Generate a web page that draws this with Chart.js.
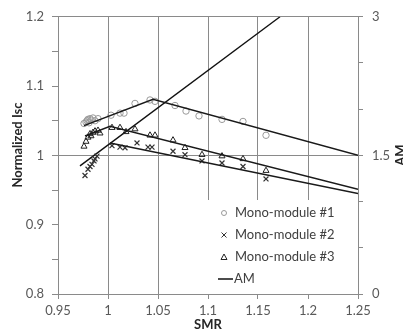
<!DOCTYPE html>
<html>
<head>
<meta charset="utf-8">
<script src="https://cdn.jsdelivr.net/npm/chart.js@4.4.0/dist/chart.umd.min.js"></script>
<style>
  html, body { margin: 0; padding: 0; background: #fff; }
  #wrap { width: 403px; height: 336px; }
</style>
</head>
<body>
<div id="wrap"><canvas id="smr"></canvas></div>
<script>
var mono1X = [0.976, 0.978, 0.979, 0.980, 0.981, 0.982, 0.983, 0.985, 0.987, 0.990, 1.003, 1.012, 1.016, 1.027, 1.042, 1.047, 1.067, 1.078, 1.091, 1.114, 1.135, 1.158];
var mono1Y = [1.046, 1.048, 1.050, 1.052, 1.047, 1.053, 1.051, 1.054, 1.050, 1.053, 1.058, 1.061, 1.061, 1.075, 1.080, 1.078, 1.072, 1.064, 1.057, 1.052, 1.049, 1.029];

var mono2X = [0.977, 0.980, 0.982, 0.984, 0.986, 0.987, 0.989, 1.004, 1.012, 1.017, 1.029, 1.040, 1.044, 1.065, 1.077, 1.094, 1.114, 1.135, 1.158];
var mono2Y = [0.971, 0.980, 0.984, 0.987, 0.992, 0.995, 0.999, 1.014, 1.012, 1.011, 1.018, 1.012, 1.012, 1.006, 1.001, 0.992, 0.989, 0.984, 0.966];

var mono3X = [0.976, 0.978, 0.980, 0.982, 0.983, 0.985, 0.987, 0.990, 0.992, 1.004, 1.012, 1.018, 1.027, 1.042, 1.047, 1.065, 1.077, 1.094, 1.114, 1.135, 1.158];
var mono3Y = [1.013, 1.020, 1.026, 1.031, 1.028, 1.033, 1.035, 1.036, 1.032, 1.040, 1.040, 1.034, 1.038, 1.029, 1.029, 1.022, 1.011, 1.001, 0.999, 0.995, 0.978];

// trend lines (two segments per module)
var trend1X = [0.976, 1.045, 1.25];
var trend1Y = [1.043, 1.081, 1.000];
var trend2X = [1.002, 1.25];
var trend2Y = [1.018, 0.945];
var trend3X = [0.977, 1.002, 1.25];
var trend3Y = [1.028, 1.042, 0.951];

// air mass, right axis
var amX = [0.972, 1.172];
var amY = [1.387, 3.0];

var xTickLabels = ['0.95', '1', '1.05', '1.1', '1.15', '1.2', '1.25'];
var yTickLabels = ['0.8', '0.9', '1', '1.1', '1.2'];
var y2TickLabels = ['0', '1.5', '3'];

var seriesNames = ['Mono-module #1', 'Mono-module #2', 'Mono-module #3', 'AM'];

var gridGray = '#8a8a8a';

function pts(xs, ys) {
    var out = [];
    for (var i = 0; i < xs.length; i++) out.push({ x: xs[i], y: ys[i] });
    return out;
}

function fmt(v) {
    return String(parseFloat(v.toFixed(2)));
}

Chart.defaults.font.family = 'Lato';
Chart.defaults.font.size = 13;
Chart.defaults.color = '#595959';

var trendStyle = {
    showLine: true,
    pointRadius: 0,
    borderColor: '#1a1a1a',
    borderWidth: 1.5,
    fill: false
};

// legend sitting inside the plot, bottom right
var boxLegend = {
    id: 'boxLegend',
    afterDraw: function (chart) {
        var ctx = chart.ctx;
        var area = chart.chartArea;
        ctx.save();
        ctx.fillStyle = '#fff';
        ctx.fillRect(203, 200, area.right - 203 - 1, area.bottom - 200);

        var mx = 224, tx = 235;
        var rows = [213, 235, 257, 279];
        ctx.lineWidth = 1;

        ctx.strokeStyle = '#9a9a9a';
        ctx.beginPath();
        ctx.arc(mx, rows[0], 2.5, 0, Math.PI * 2);
        ctx.stroke();

        ctx.strokeStyle = '#333';
        ctx.beginPath();
        ctx.moveTo(mx - 2.5, rows[1] - 2.5); ctx.lineTo(mx + 2.5, rows[1] + 2.5);
        ctx.moveTo(mx + 2.5, rows[1] - 2.5); ctx.lineTo(mx - 2.5, rows[1] + 2.5);
        ctx.stroke();

        ctx.strokeStyle = '#222';
        ctx.beginPath();
        ctx.moveTo(mx, rows[2] - 3); ctx.lineTo(mx + 3, rows[2] + 2.5); ctx.lineTo(mx - 3, rows[2] + 2.5);
        ctx.closePath();
        ctx.stroke();

        ctx.strokeStyle = '#111';
        ctx.lineWidth = 1.5;
        ctx.beginPath();
        ctx.moveTo(218, rows[3]); ctx.lineTo(233, rows[3]);
        ctx.stroke();

        ctx.fillStyle = '#404040';
        ctx.font = '13px Lato';
        ctx.textBaseline = 'middle';
        ctx.textAlign = 'left';
        for (var i = 0; i < 3; i++) ctx.fillText(seriesNames[i], tx, rows[i]);
        ctx.fillText(seriesNames[3], 234, rows[3]);

        // vertical axis titles
        ctx.fillStyle = '#262626';
        ctx.font = 'bold 13px Lato';
        ctx.textAlign = 'center';
        ctx.save();
        ctx.translate(18, 145);
        ctx.rotate(-Math.PI / 2);
        ctx.fillText('Normalized Isc', 0, 0);
        ctx.restore();
        ctx.save();
        ctx.translate(401, 155);
        ctx.rotate(-Math.PI / 2);
        ctx.fillText('AM', 0, 0);
        ctx.restore();
        ctx.restore();
    }
};

var ctx = document.getElementById('smr').getContext('2d');
var smrChart = new Chart(ctx, {
    type: 'scatter',
    data: {
        datasets: [
            Object.assign({ label: 'trend1', data: pts(trend1X, trend1Y), yAxisID: 'y' }, trendStyle),
            Object.assign({ label: 'trend2', data: pts(trend2X, trend2Y), yAxisID: 'y' }, trendStyle),
            Object.assign({ label: 'trend3', data: pts(trend3X, trend3Y), yAxisID: 'y' }, trendStyle),
            {
                label: seriesNames[0],
                data: pts(mono1X, mono1Y),
                yAxisID: 'y',
                pointStyle: 'circle',
                pointRadius: 3.2,
                borderColor: '#9a9a9a',
                backgroundColor: 'rgba(0,0,0,0)',
                borderWidth: 1
            },
            {
                label: seriesNames[1],
                data: pts(mono2X, mono2Y),
                yAxisID: 'y',
                pointStyle: 'cross',
                rotation: 45,
                pointRadius: 3.5,
                borderColor: '#333',
                borderWidth: 1.2
            },
            {
                label: seriesNames[2],
                data: pts(mono3X, mono3Y),
                yAxisID: 'y',
                pointStyle: 'triangle',
                pointRadius: 3.5,
                borderColor: '#222',
                backgroundColor: 'rgba(0,0,0,0)',
                borderWidth: 1
            },
            {
                label: seriesNames[3],
                data: pts(amX, amY),
                yAxisID: 'y2',
                showLine: true,
                pointRadius: 0,
                borderColor: '#111',
                borderWidth: 1.4
            }
        ]
    },
    options: {
        responsive: true,
        maintainAspectRatio: false,
        animation: false,
        layout: { padding: { top: 15, left: 0, right: 0, bottom: 0 } },
        plugins: {
            legend: { display: false },
            tooltip: { enabled: false }
        },
        scales: {
            x: {
                type: 'linear',
                min: 0.95,
                max: 1.25,
                ticks: {
                    stepSize: 0.05,
                    padding: 4,
                    maxRotation: 0,
                    callback: function (v) {
                        var i = Math.round((v - 0.95) / 0.05);
                        return xTickLabels[i];
                    }
                },
                grid: { color: gridGray, tickColor: gridGray, tickLength: 5, lineWidth: 1 },
                border: { color: gridGray },
                title: {
                    display: true,
                    text: 'SMR',
                    color: '#262626',
                    font: { weight: 'bold', size: 13 },
                    padding: { top: 0, bottom: 3 }
                },
                afterFit: function (s) { s.height = 42; }
            },
            y: {
                type: 'linear',
                position: 'left',
                min: 0.8,
                max: 1.2,
                ticks: {
                    stepSize: 0.05,
                    padding: 8,
                    callback: function (v) {
                        var k = Math.round(v * 100);
                        if (k % 10 !== 0) return '';
                        return yTickLabels[(k - 80) / 10];
                    }
                },
                grid: {
                    color: function (c) {
                        var k = Math.round(c.tick.value * 100);
                        return (k === 100 || k === 120) ? gridGray : 'rgba(0,0,0,0)';
                    },
                    tickColor: gridGray,
                    tickLength: 6
                },
                border: { color: gridGray },
                afterFit: function (s) { s.width = 58; }
            },
            y2: {
                type: 'linear',
                position: 'right',
                min: 0,
                max: 3,
                ticks: {
                    stepSize: 0.5,
                    padding: 9,
                    callback: function (v) {
                        var k = Math.round(v * 10);
                        if (k % 15 !== 0) return '';
                        return y2TickLabels[k / 15];
                    }
                },
                grid: { drawOnChartArea: false, tickColor: gridGray, tickLength: 5 },
                border: { color: gridGray },
                afterFit: function (s) { s.width = 45; }
            }
        }
    },
    plugins: [boxLegend]
});
</script>
</body>
</html>
